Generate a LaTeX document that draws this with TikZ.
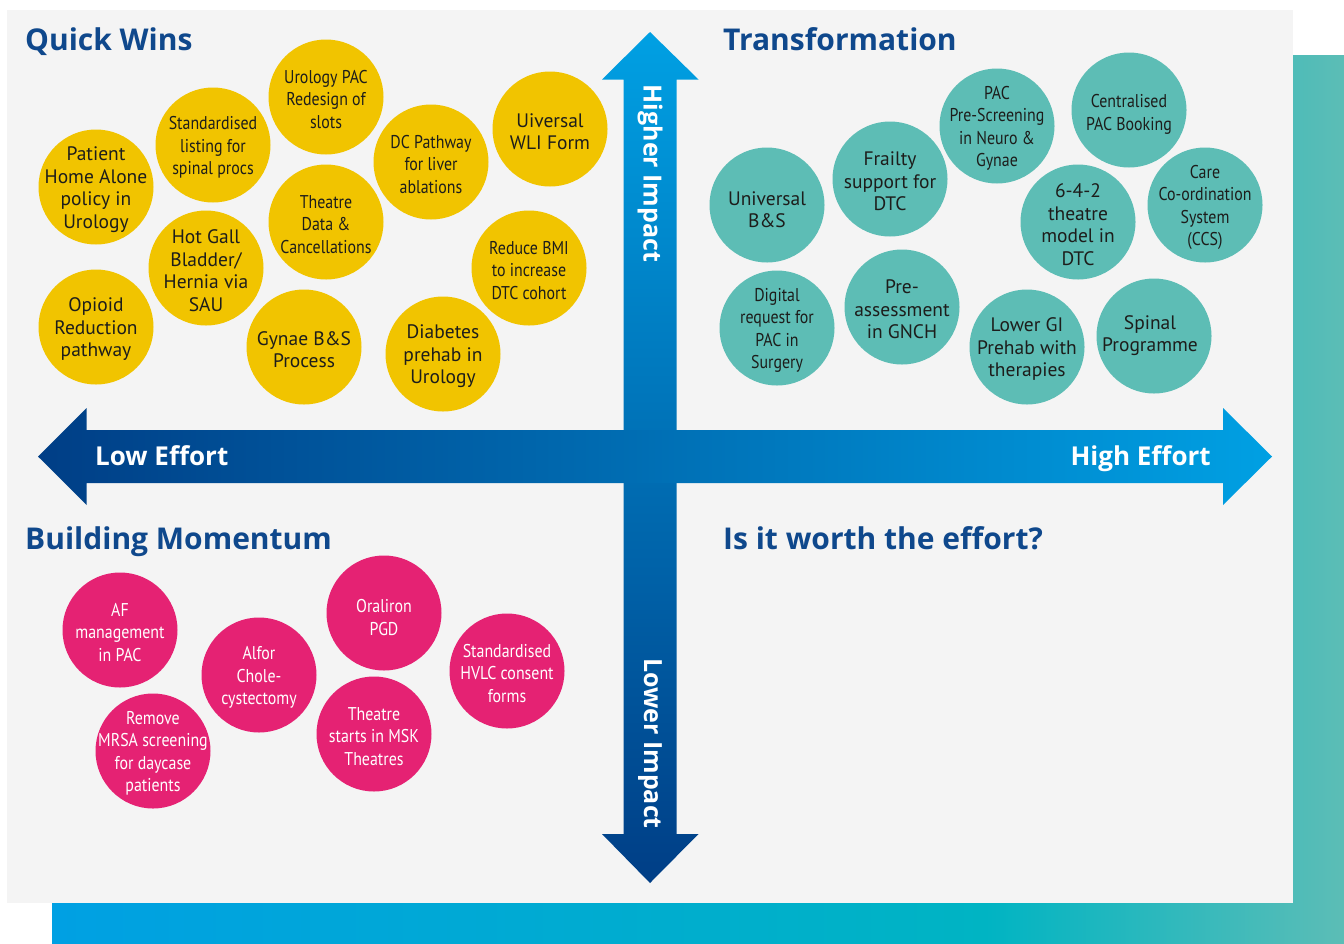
\documentclass[tikz,border=0pt]{standalone}
\usepackage{fontspec}
\setmainfont{PT Sans}
\newfontfamily\cf{PT Sans}
\newfontfamily\ccf[FakeStretch=0.86]{PT Sans}
\newfontfamily\tf{Open Sans}
\definecolor{panel}{RGB}{244,244,244}
\definecolor{ylw}{RGB}{241,196,0}
\definecolor{tea}{RGB}{93,189,181}
\definecolor{pnk}{RGB}{229,34,115}
\definecolor{ttl}{RGB}{15,72,140}
\definecolor{dark}{RGB}{29,29,27}
\definecolor{abl}{RGB}{0,160,227}
\definecolor{adk}{RGB}{0,62,134}
\definecolor{cyt}{RGB}{0,180,195}
\definecolor{tel}{RGB}{92,189,182}
\begin{document}
\begin{tikzpicture}[x=1pt,y=-1pt,
  bub/.style={circle,minimum size=115pt,inner sep=0pt},
  yb/.style={bub,fill=ylw},
  tb/.style={bub,fill=tea},
  pb/.style={bub,fill=pnk},
  rt/.style={align=center,text=dark,yshift=-2.5pt,font={\cf\fontsize{19.5}{22.5}\selectfont}},
  ct/.style={align=center,text=dark,yshift=-2.5pt,font={\ccf\fontsize{18.5}{22.5}\selectfont}},
  wt/.style={align=center,text=white,yshift=-2.5pt,font={\ccf\fontsize{18.5}{22.5}\selectfont}},
  ttlstyle/.style={anchor=base west,text=ttl,font={\tf\bfseries\fontsize{30}{36}\selectfont},inner sep=0pt},
  axlbl/.style={text=white,font={\tf\bfseries\fontsize{26}{31}\selectfont},inner sep=0pt}
]
\useasboundingbox (0,0) rectangle (1344,943);
% backing gradient
\shade[left color=abl,right color=cyt] (52,55) rectangle (987,943);
\shade[left color=cyt,right color=tel] (986,55) rectangle (1344,943);
\fill[panel] (7,10) rectangle (1293,903);

% vertical arrow
\shade[top color=abl,bottom color=adk]
  (623.5,79.5) -- (602,79.5) -- (650,32) -- (698.5,79.5) -- (676.5,79.5)
  -- (676.5,834) -- (698.5,834) -- (650,883) -- (602,834) -- (623.5,834) -- cycle;
% horizontal arrow
\shade[left color=adk,right color=abl]
  (86.7,430) -- (86.7,408) -- (38,456.5) -- (86.7,505) -- (86.7,483)
  -- (1223,483) -- (1223,505) -- (1272,456.5) -- (1223,408) -- (1223,430) -- cycle;

\node[axlbl,anchor=base west] (le) at (95,465) {Low Effort};
\node[axlbl,anchor=base east] (he) at (1211,465) {High Effort};
\node[axlbl,rotate=-90,font={\tf\bfseries\fontsize{25}{30}\selectfont}] (hi) at (650,173.5) {Higher Impact};
\node[axlbl,rotate=-90,font={\tf\bfseries\fontsize{25}{30}\selectfont}] (li) at (650,743.5) {Lower Impact};

% titles
\node[ttlstyle] (qw) at (25,50) {Quick Wins};
\node[ttlstyle] (tr) at (723,50) {Transformation};
\node[ttlstyle] (bm) at (25,549) {Building Momentum};
\node[ttlstyle] (iw) at (723,549) {Is it worth the effort?};

% yellow
\node[yb] (y1) at (96,187) {};  \node[rt] (y1t) at (y1) {Patient\\Home Alone\\policy in\\Urology};
\node[yb] (y2) at (213,145) {}; \node[ct] (y2t) at (y2) {Standardised\\listing for\\spinal procs};
\node[yb] (y3) at (326,97) {};  \node[ct] (y3t) at (y3) {Urology PAC\\Redesign of\\slots};
\node[yb] (y4) at (431,162) {}; \node[ct] (y4t) at (y4) {DC Pathway\\for liver\\ablations};
\node[yb] (y5) at (550,129) {}; \node[rt] (y5t) at (y5) {Uiversal\\WLI Form};
\node[yb] (y6) at (326,222) {}; \node[ct] (y6t) at (y6) {Theatre\\Data \&\\Cancellations};
\node[yb] (y7) at (206,268) {}; \node[rt] (y7t) at (y7) {Hot Gall\\Bladder/\\Hernia via\\SAU};
\node[yb] (y8) at (96,327) {};  \node[rt] (y8t) at (y8) {Opioid\\Reduction\\pathway};
\node[yb] (y9) at (304,347) {}; \node[rt] (y9t) at (y9) {Gynae B\&S\\Process};
\node[yb] (y10) at (529,268) {}; \node[ct] (y10t) at (y10) {Reduce BMI\\to increase\\DTC cohort};
\node[yb] (y11) at (443,354) {}; \node[rt] (y11t) at (y11) {Diabetes\\prehab in\\Urology};

% teal
\node[tb] (t1) at (767,205) {};  \node[rt] (t1t) at (767,207) {Universal\\B\&S};
\node[tb] (t2) at (890,179) {};  \node[rt] (t2t) at (t2) {Frailty\\support for\\DTC};
\node[tb] (t3) at (997,126) {};  \node[ct] (t3t) at (t3) {PAC\\Pre-Screening\\in Neuro \&\\Gynae};
\node[tb] (t4) at (1129,110) {}; \node[ct] (t4t) at (1129,112) {Centralised\\PAC Booking};
\node[tb] (t5) at (1078,222) {}; \node[rt] (t5t) at (t5) {6-4-2\\theatre\\model in\\DTC};
\node[tb] (t6) at (1205,205) {}; \node[ct] (t6t) at (t6) {Care\\Co-ordination\\System\\(CCS)};
\node[tb] (t7) at (777,328) {};  \node[ct] (t7t) at (t7) {Digital\\request for\\PAC in\\Surgery};
\node[tb] (t8) at (902,307) {};  \node[rt] (t8t) at (t8) {Pre-\\assessment\\in GNCH};
\node[tb] (t9) at (1027,347) {}; \node[rt] (t9t) at (t9) {Lower GI\\Prehab with\\therapies};
\node[tb] (t10) at (1154,336) {}; \node[rt] (t10t) at (1150,333) {Spinal\\Programme};

% pink
\node[pb] (p1) at (120,630) {}; \node[wt] (p1t) at (p1) {AF\\management\\in PAC};
\node[pb] (p2) at (259,675) {}; \node[wt] (p2t) at (p2) {Alfor\\Chole-\\cystectomy};
\node[pb] (p3) at (384,613) {}; \node[wt] (p3t) at (384,615) {Oraliron\\PGD};
\node[pb] (p4) at (507,671) {}; \node[wt] (p4t) at (p4) {Standardised\\HVLC consent\\forms};
\node[pb] (p5) at (153,751) {}; \node[wt] (p5t) at (p5) {Remove\\MRSA screening\\for daycase\\patients};
\node[pb] (p6) at (374,734) {}; \node[wt] (p6t) at (p6) {Theatre\\starts in MSK\\Theatres};
\end{tikzpicture}
\end{document}
